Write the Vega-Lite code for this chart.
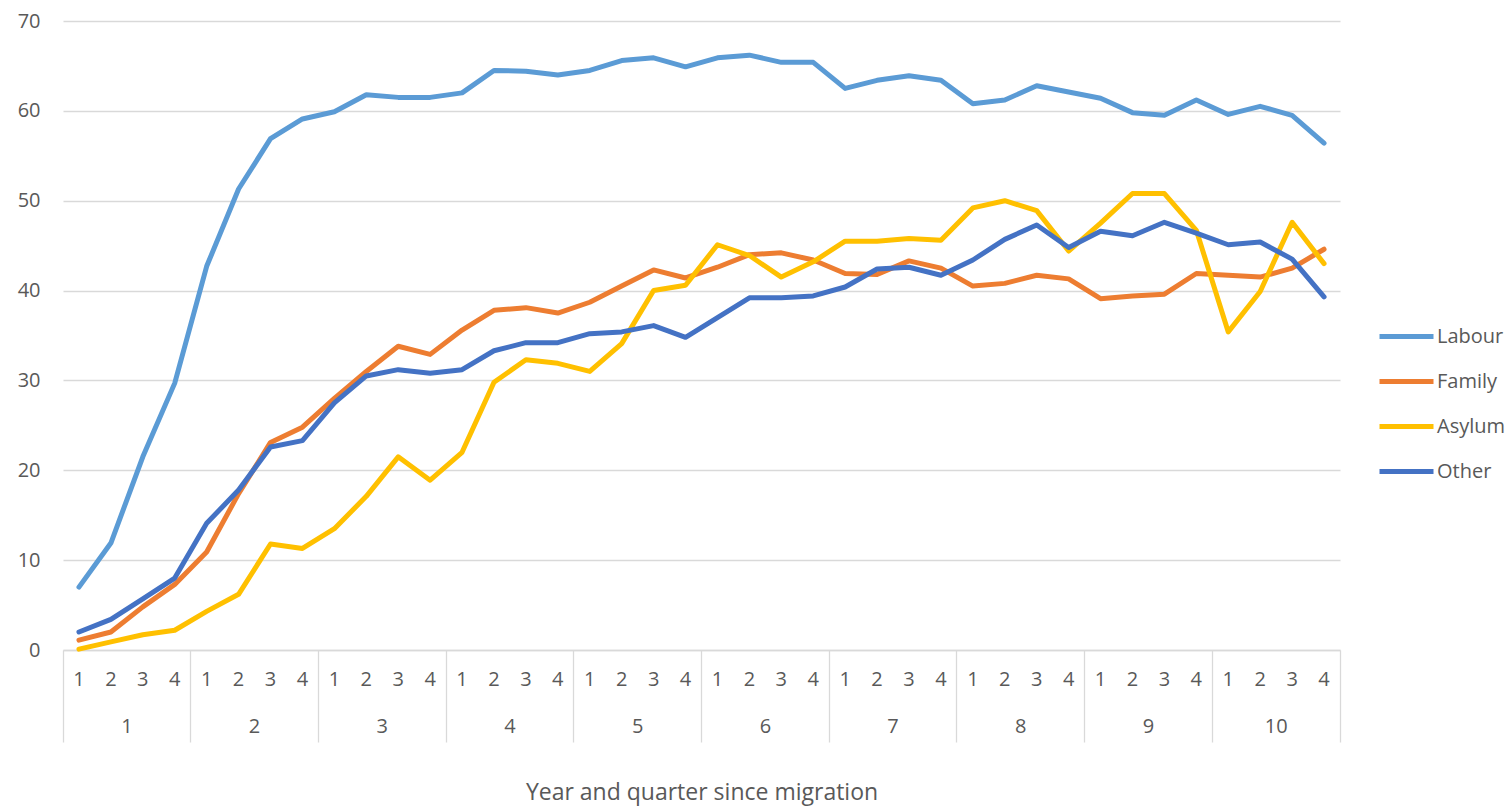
{
  "$schema": "https://vega.github.io/schema/vega-lite/v6.json",
  "width": 1277,
  "height": 629,
  "autosize": {"type": "none"},
  "padding": {"left": 63, "top": 21, "right": 171, "bottom": 157},
  "background": "white",
  "config": {
    "view": {"stroke": null},
    "font": "Open Sans",
    "axis": {"labelFont": "Open Sans", "titleFont": "Open Sans", "labelColor": "#595959", "titleColor": "#595959", "labelFontSize": 20, "titleFontSize": 23, "titleFontWeight": "normal"},
    "legend": {"labelFont": "Open Sans"}
  },
  "data": {
    "values": [
      {"period": "1-1", "Labour": 7.0, "Family": 1.1, "Asylum": 0.1, "Other": 2.0},
      {"period": "1-2", "Labour": 11.9, "Family": 2.0, "Asylum": 0.9, "Other": 3.4},
      {"period": "1-3", "Labour": 21.5, "Family": 4.8, "Asylum": 1.7, "Other": 5.7},
      {"period": "1-4", "Labour": 29.7, "Family": 7.3, "Asylum": 2.2, "Other": 8.0},
      {"period": "2-1", "Labour": 42.7, "Family": 10.9, "Asylum": 4.3, "Other": 14.1},
      {"period": "2-2", "Labour": 51.3, "Family": 17.4, "Asylum": 6.2, "Other": 17.8},
      {"period": "2-3", "Labour": 56.9, "Family": 23.1, "Asylum": 11.8, "Other": 22.6},
      {"period": "2-4", "Labour": 59.1, "Family": 24.8, "Asylum": 11.3, "Other": 23.3},
      {"period": "3-1", "Labour": 59.9, "Family": 28.0, "Asylum": 13.5, "Other": 27.5},
      {"period": "3-2", "Labour": 61.8, "Family": 31.0, "Asylum": 17.1, "Other": 30.5},
      {"period": "3-3", "Labour": 61.5, "Family": 33.8, "Asylum": 21.5, "Other": 31.2},
      {"period": "3-4", "Labour": 61.5, "Family": 32.9, "Asylum": 18.9, "Other": 30.8},
      {"period": "4-1", "Labour": 62.0, "Family": 35.6, "Asylum": 22.0, "Other": 31.2},
      {"period": "4-2", "Labour": 64.5, "Family": 37.8, "Asylum": 29.8, "Other": 33.3},
      {"period": "4-3", "Labour": 64.4, "Family": 38.1, "Asylum": 32.3, "Other": 34.2},
      {"period": "4-4", "Labour": 64.0, "Family": 37.5, "Asylum": 31.9, "Other": 34.2},
      {"period": "5-1", "Labour": 64.5, "Family": 38.7, "Asylum": 31.0, "Other": 35.2},
      {"period": "5-2", "Labour": 65.6, "Family": 40.5, "Asylum": 34.1, "Other": 35.4},
      {"period": "5-3", "Labour": 65.9, "Family": 42.3, "Asylum": 40.0, "Other": 36.1},
      {"period": "5-4", "Labour": 64.9, "Family": 41.4, "Asylum": 40.6, "Other": 34.8},
      {"period": "6-1", "Labour": 65.9, "Family": 42.6, "Asylum": 45.1, "Other": 37.0},
      {"period": "6-2", "Labour": 66.2, "Family": 44.0, "Asylum": 43.9, "Other": 39.2},
      {"period": "6-3", "Labour": 65.4, "Family": 44.2, "Asylum": 41.5, "Other": 39.2},
      {"period": "6-4", "Labour": 65.4, "Family": 43.4, "Asylum": 43.2, "Other": 39.4},
      {"period": "7-1", "Labour": 62.5, "Family": 41.9, "Asylum": 45.5, "Other": 40.4},
      {"period": "7-2", "Labour": 63.4, "Family": 41.8, "Asylum": 45.5, "Other": 42.4},
      {"period": "7-3", "Labour": 63.9, "Family": 43.3, "Asylum": 45.8, "Other": 42.6},
      {"period": "7-4", "Labour": 63.4, "Family": 42.5, "Asylum": 45.6, "Other": 41.7},
      {"period": "8-1", "Labour": 60.8, "Family": 40.5, "Asylum": 49.2, "Other": 43.4},
      {"period": "8-2", "Labour": 61.2, "Family": 40.8, "Asylum": 50.0, "Other": 45.7},
      {"period": "8-3", "Labour": 62.8, "Family": 41.7, "Asylum": 48.9, "Other": 47.3},
      {"period": "8-4", "Labour": 62.1, "Family": 41.3, "Asylum": 44.4, "Other": 44.8},
      {"period": "9-1", "Labour": 61.4, "Family": 39.1, "Asylum": 47.5, "Other": 46.6},
      {"period": "9-2", "Labour": 59.8, "Family": 39.4, "Asylum": 50.8, "Other": 46.1},
      {"period": "9-3", "Labour": 59.5, "Family": 39.6, "Asylum": 50.8, "Other": 47.6},
      {"period": "9-4", "Labour": 61.2, "Family": 41.9, "Asylum": 46.7, "Other": 46.4},
      {"period": "10-1", "Labour": 59.6, "Family": 41.7, "Asylum": 35.4, "Other": 45.1},
      {"period": "10-2", "Labour": 60.5, "Family": 41.5, "Asylum": 39.9, "Other": 45.4},
      {"period": "10-3", "Labour": 59.5, "Family": 42.5, "Asylum": 47.6, "Other": 43.5},
      {"period": "10-4", "Labour": 56.4, "Family": 44.6, "Asylum": 43.0, "Other": 39.3}
    ]
  },
  "transform": [{"fold": ["Labour", "Family", "Asylum", "Other"], "as": ["series", "value"]}],
  "resolve": {"axis": {"x": "independent"}},
  "layer": [
    {
      "mark": {"type": "line", "strokeWidth": 5, "strokeCap": "round", "strokeJoin": "round"},
      "encoding": {
        "x": {
          "field": "period", "type": "ordinal", "sort": null,
          "scale": {"type": "band", "paddingInner": 0, "paddingOuter": 0,
            "domain": ["1-1","1-2","1-3","1-4","2-1","2-2","2-3","2-4","3-1","3-2","3-3","3-4","4-1","4-2","4-3","4-4","5-1","5-2","5-3","5-4","6-1","6-2","6-3","6-4","7-1","7-2","7-3","7-4","8-1","8-2","8-3","8-4","9-1","9-2","9-3","9-4","10-1","10-2","10-3","10-4"]},
          "axis": {"orient": "bottom", "bandPosition": 0.5, "ticks": false, "domain": false, "grid": false, "labelAngle": 0, "labelPadding": 19, "labelOverlap": false, "labelExpr": "split(datum.value, '-')[1]", "title": null}
        },
        "y": {
          "field": "value", "type": "quantitative",
          "scale": {"domain": [0, 70], "nice": false},
          "axis": {"values": [0, 10, 20, 30, 40, 50, 60, 70], "grid": true, "gridColor": "#D9D9D9", "gridWidth": 1.3, "domain": false, "ticks": false, "labelPadding": 23, "title": null}
        },
        "color": {
          "field": "series", "type": "nominal",
          "scale": {"domain": ["Labour", "Family", "Asylum", "Other"], "range": ["#5B9BD5", "#ED7D31", "#FFC000", "#4472C4"]},
          "legend": {"orient": "none", "legendX": 1314, "legendY": 286, "title": null, "symbolType": "stroke", "symbolSize": 2916, "symbolStrokeWidth": 5, "labelFontSize": 20, "labelColor": "#595959", "labelOffset": 1, "rowPadding": 5, "padding": 0}
        }
      }
    },
    {
      "mark": {"type": "point", "opacity": 0},
      "encoding": {
        "x": {"field": "period", "type": "ordinal", "sort": null,
          "axis": {"orient": "bottom", "values": ["1-2","2-2","3-2","4-2","5-2","6-2","7-2","8-2","9-2","10-2"], "bandPosition": 1, "ticks": false, "domain": false, "grid": false, "labelAngle": 0, "labelPadding": 66, "labelOffset": 16, "labelOverlap": false, "labelExpr": "split(datum.value, '-')[0]", "title": "Year and quarter since migration", "titlePadding": 45}},
        "y": {"field": "value", "type": "quantitative"}
      }
    },
    {
      "mark": {"type": "point", "opacity": 0},
      "encoding": {
        "x": {"field": "period", "type": "ordinal", "sort": null,
          "axis": {"orient": "bottom", "values": ["1-1","2-1","3-1","4-1","5-1","6-1","7-1","8-1","9-1","10-1"], "bandPosition": 0, "ticks": true, "tickSize": 92, "tickColor": "#D9D9D9", "tickWidth": 1.3, "labels": false, "domain": true, "domainColor": "#D9D9D9", "domainWidth": 1.3, "grid": false, "title": null}},
        "y": {"field": "value", "type": "quantitative"}
      }
    },
    {
      "mark": {"type": "point", "opacity": 0},
      "encoding": {
        "x": {"field": "period", "type": "ordinal", "sort": null,
          "axis": {"orient": "bottom", "values": ["10-4"], "bandPosition": 1, "ticks": true, "tickSize": 92, "tickColor": "#D9D9D9", "tickWidth": 1.3, "labels": false, "domain": false, "grid": false, "title": null}},
        "y": {"field": "value", "type": "quantitative"}
      }
    }
  ]
}
